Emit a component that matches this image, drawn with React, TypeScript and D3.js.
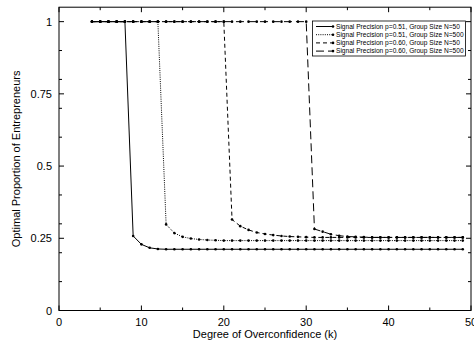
import React from "react";
import * as d3 from "d3";

const kValues = d3.range(4, 50);

const s1Drop = [0.258, 0.229, 0.217, 0.213];
const s2Drop = [0.298, 0.268, 0.255, 0.249, 0.246, 0.244, 0.243];
const s3Drop = [0.315, 0.292, 0.279, 0.27, 0.265, 0.261, 0.258, 0.256, 0.255, 0.254];
const s4Drop = [0.282, 0.273, 0.264, 0.259, 0.256, 0.255, 0.254];

const s1Start = 9, s1Tail = 0.212;
const s2Start = 13, s2Tail = 0.242;
const s3Start = 21, s3Tail = 0.253;
const s4Start = 31, s4Tail = 0.253;

function build(start: number, drop: number[], tail: number) {
  return kValues.map((k) => {
    if (k < start) return { k, v: 1 };
    const i = k - start;
    return { k, v: i < drop.length ? drop[i] : tail };
  });
}

const seriesNames = [
  "Signal Precision p=0.51, Group Size N=50",
  "Signal Precision p=0.51, Group Size N=500",
  "Signal Precision p=0.60, Group Size N=50",
  "Signal Precision p=0.60, Group Size N=500",
];
const dashes = ["none", "1,1.2", "4,3", "8,4"];

const xMajor = [0, 10, 20, 30, 40, 50];
const xMinor = [5, 15, 25, 35, 45];
const yMajor = [0, 0.25, 0.5, 0.75, 1];
const yMajorLabels = ["0", "0.25", "0.5", "0.75", "1"];
const yMinor = [0.1, 0.2, 0.3, 0.4, 0.6, 0.7, 0.8, 0.9];

export default function App() {
  const W = 474, H = 345;
  const L = 59, R = 471, T = 7.2, B = 310.5;
  const x = d3.scaleLinear().domain([0, 50]).range([L, R]);
  const y = d3.scaleLinear().domain([0, 1.05]).range([B, T]);
  const data = [
    build(s1Start, s1Drop, s1Tail),
    build(s2Start, s2Drop, s2Tail),
    build(s3Start, s3Drop, s3Tail),
    build(s4Start, s4Drop, s4Tail),
  ];
  const line = d3
    .line<{ k: number; v: number }>()
    .x((d) => x(d.k))
    .y((d) => y(d.v));
  const font = "'Liberation Sans', Arial, sans-serif";
  const majLen = 5, minLen = 3;
  return (
    <svg
      width={W}
      height={H}
      style={{ position: "absolute", left: 0, top: 0, background: "#fff" }}
      fontFamily={font}
    >
      <rect x={0} y={0} width={W} height={H} fill="#fff" />
      {data.map((d, i) => (
        <g key={i}>
          <path
            d={line(d) || ""}
            fill="none"
            stroke="#000"
            strokeWidth={1}
            strokeDasharray={dashes[i]}
          />
          {d.map((p) => (
            <circle key={p.k} cx={x(p.k)} cy={y(p.v)} r={1.3} fill="#000" />
          ))}
        </g>
      ))}
      <rect x={L} y={T} width={R - L} height={B - T} fill="none" stroke="#000" strokeWidth={1} />
      {xMajor.map((t) => (
        <g key={"xm" + t}>
          <line x1={x(t)} x2={x(t)} y1={B} y2={B - majLen} stroke="#000" />
          <line x1={x(t)} x2={x(t)} y1={T} y2={T + majLen} stroke="#000" />
          <text x={x(t)} y={326} fontSize={11} textAnchor="middle" fill="#000">
            {t}
          </text>
        </g>
      ))}
      {xMinor.map((t) => (
        <g key={"xn" + t}>
          <line x1={x(t)} x2={x(t)} y1={B} y2={B - minLen} stroke="#000" />
          <line x1={x(t)} x2={x(t)} y1={T} y2={T + minLen} stroke="#000" />
        </g>
      ))}
      {yMajor.map((t, i) => (
        <g key={"ym" + t}>
          <line x1={L} x2={L + majLen} y1={y(t)} y2={y(t)} stroke="#000" />
          <line x1={R} x2={R - majLen} y1={y(t)} y2={y(t)} stroke="#000" />
          <text x={52} y={y(t) + 4} fontSize={11} textAnchor="end" fill="#000">
            {yMajorLabels[i]}
          </text>
        </g>
      ))}
      {yMinor.map((t) => (
        <g key={"yn" + t}>
          <line x1={L} x2={L + minLen} y1={y(t)} y2={y(t)} stroke="#000" />
          <line x1={R} x2={R - minLen} y1={y(t)} y2={y(t)} stroke="#000" />
        </g>
      ))}
      <text x={(L + R) / 2} y={338} fontSize={11} textAnchor="middle" fill="#000">
        Degree of Overconfidence (k)
      </text>
      <text
        transform={`translate(20,${(T + B) / 2}) rotate(-90)`}
        fontSize={11}
        textAnchor="middle"
        fill="#000"
      >
        Optimal Proportion of Entrepreneurs
      </text>
      <g>
        <rect x={312.5} y={21} width={153} height={35} fill="#fff" stroke="#000" strokeWidth={0.8} />
        {seriesNames.map((n, i) => {
          const yy = 26.5 + i * 8.2;
          return (
            <g key={n}>
              <line x1={316} x2={333} y1={yy} y2={yy} stroke="#000" strokeDasharray={dashes[i]} />
              <circle cx={333} cy={yy} r={1.3} fill="#000" />
              <text x={336} y={yy + 2.3} fontSize={6.6} fill="#000">
                {n}
              </text>
            </g>
          );
        })}
      </g>
    </svg>
  );
}
